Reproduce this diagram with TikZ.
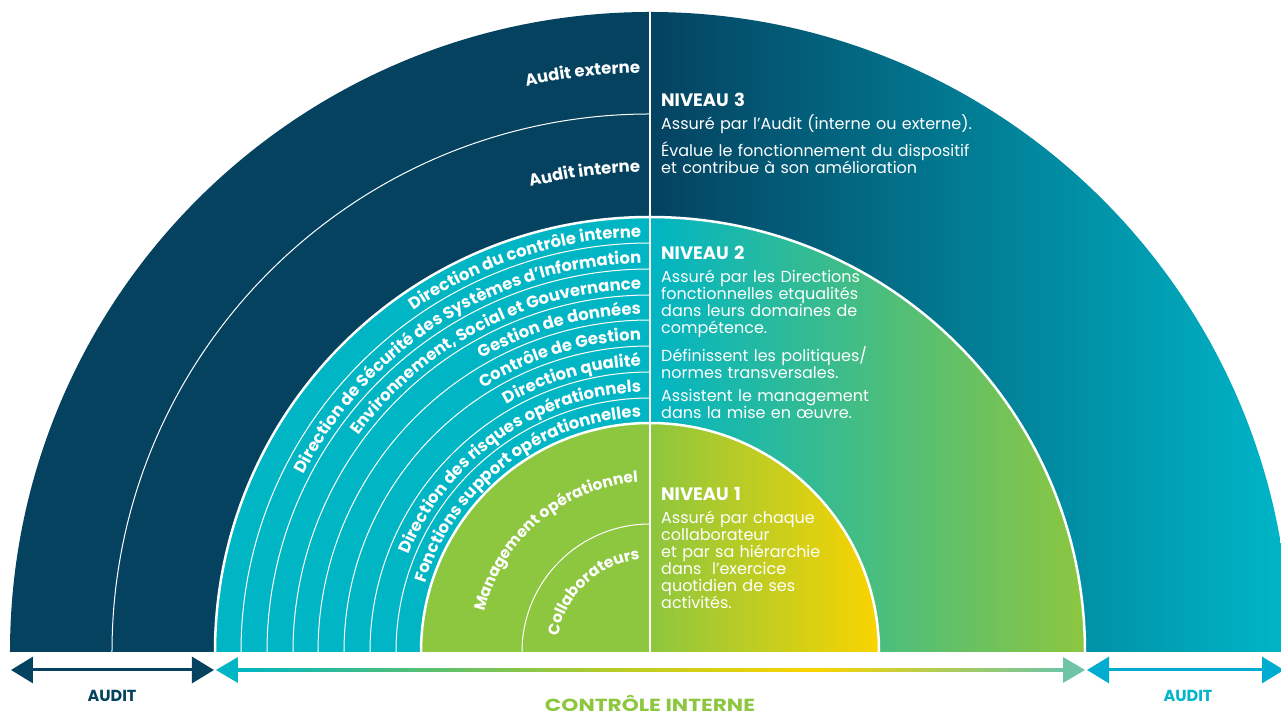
\documentclass[tikz,border=0pt]{standalone}
\usepackage{fontspec}
\setmainfont{Poppins}
\newfontfamily\widefont{Poppins}[FakeStretch=1.24]
\definecolor{auditnavy}{RGB}{4,66,96}
\definecolor{auditteal}{RGB}{0,182,200}
\definecolor{auditblue}{RGB}{0,172,208}
\definecolor{ctrlteal}{RGB}{0,181,196}
\definecolor{opgreen}{RGB}{141,198,63}
\definecolor{opyellow}{RGB}{250,212,0}
\definecolor{mint}{RGB}{110,196,165}
\colorlet{shaftgreen}{ctrlteal!35!opgreen}
\colorlet{shaftlime}{opgreen!60!opyellow}
\colorlet{shaftfade}{opyellow!45!mint}
\usetikzlibrary{arrows.meta, decorations.text}

% gradient of the internal control shaft
\pgfdeclarehorizontalshading{ctrlshaft}{100bp}{color(0bp)=(ctrlteal); color(25bp)=(ctrlteal);
  color(37bp)=(shaftgreen); color(48bp)=(shaftlime); color(60bp)=(opyellow);
  color(68bp)=(shaftfade); color(75bp)=(mint); color(100bp)=(mint)}

\newcommand\ringfont{\bfseries\fontsize{16.5}{16.5}\selectfont}
\newcommand\corefont{\bfseries\fontsize{16.5}{16.5}\selectfont}
\newcommand\innerfont{\bfseries\fontsize{15.5}{15.5}\selectfont}
\newcommand\niveau[1]{{\bfseries\fontsize{18}{17}\selectfont #1}}

\begin{document}
\begin{tikzpicture}[x=1pt, y=1pt,
  thinring/.style={white, line width=1pt},
  thickring/.style={white, line width=2.5pt},
  ringlabel/.style={decorate, decoration={text along path, text color=white,
      text align={align=right, right indent=#1}}},
  ringlabel/.default=9pt,
  infotext/.style={white, anchor=base west, align=left, text width=340pt,
      inner sep=0pt, font=\fontsize{16}{17}\selectfont},
  auditarrow/.style={line width=3pt, >={Triangle[length=22pt, width=26pt]}, <->}]

\useasboundingbox (-650,-59) rectangle (631,652);
\clip (-650,-59) rectangle (631,652);

% --- Left half: flat colours ---
\fill[auditnavy] (0,0) -- (-640,0) arc[start angle=180, end angle=90, radius=640] -- cycle;
\fill[ctrlteal] (0,0) -- (-435,0) arc[start angle=180, end angle=90, radius=435] -- cycle;
\fill[opgreen] (0,0) -- (-229,0) arc[start angle=180, end angle=90, radius=229] -- cycle;

% --- Right half: shaded levels ---
\shade[left color=auditnavy, right color=auditteal]
  (0,435) -- (0,640) arc[start angle=90, end angle=0, radius=640]
  -- (435,0) arc[start angle=0, end angle=90, radius=435] -- cycle;
\shade[left color=ctrlteal, right color=opgreen]
  (0,229) -- (0,435) arc[start angle=90, end angle=0, radius=435]
  -- (229,0) arc[start angle=0, end angle=90, radius=229] -- cycle;
\shade[left color=opgreen, right color=opyellow]
  (0,0) -- (0,229) arc[start angle=90, end angle=0, radius=229] -- cycle;

% --- Ring separators ---
\draw[thinring] (-538,0) arc[start angle=180, end angle=90, radius=538];
\draw[thinring] (-409,0) arc[start angle=180, end angle=90, radius=409];
\draw[thinring] (-383,0) arc[start angle=180, end angle=90, radius=383];
\draw[thinring] (-357,0) arc[start angle=180, end angle=90, radius=357];
\draw[thinring] (-332,0) arc[start angle=180, end angle=90, radius=332];
\draw[thinring] (-306,0) arc[start angle=180, end angle=90, radius=306];
\draw[thinring] (-280,0) arc[start angle=180, end angle=90, radius=280];
\draw[thinring] (-254,0) arc[start angle=180, end angle=90, radius=254];
\draw[thinring] (-128,0) arc[start angle=180, end angle=90, radius=128];
\draw[thickring] (-435,0) arc[start angle=180, end angle=0, radius=435];
\draw[thickring] (-229,0) arc[start angle=180, end angle=0, radius=229];
\draw[thickring] (0,0) -- (0,640);

% --- Level 3 labels ---
\path[ringlabel=10pt, decoration={text={|\corefont|Audit externe}}]
  (-579,0) arc[start angle=180, end angle=90, radius=579];
\path[ringlabel=10pt, decoration={text={|\corefont|Audit interne}}]
  (-480,0) arc[start angle=180, end angle=90, radius=480];

% --- Level 2 labels, one per ring ---
\path[ringlabel, decoration={text={|\ringfont|Direction du contrôle interne}}]
  (-415,0) arc[start angle=180, end angle=90, radius=415];
\path[ringlabel, decoration={text={|\ringfont|Direction de Sécurité des Systèmes d’Information}}]
  (-389,0) arc[start angle=180, end angle=90, radius=389];
\path[ringlabel, decoration={text={|\ringfont|Environnement, Social et Gouvernance}}]
  (-363,0) arc[start angle=180, end angle=90, radius=363];
\path[ringlabel, decoration={text={|\ringfont|Gestion de données}}]
  (-338,0) arc[start angle=180, end angle=90, radius=338];
\path[ringlabel, decoration={text={|\ringfont|Contrôle de Gestion}}]
  (-312,0) arc[start angle=180, end angle=90, radius=312];
\path[ringlabel, decoration={text={|\ringfont|Direction qualité}}]
  (-286,0) arc[start angle=180, end angle=90, radius=286];
\path[ringlabel, decoration={text={|\ringfont|Direction des risques opérationnels}}]
  (-260,0) arc[start angle=180, end angle=90, radius=260];
\path[ringlabel, decoration={text={|\ringfont|Fonctions support opérationnelles}}]
  (-235,0) arc[start angle=180, end angle=90, radius=235];

% --- Level 1 labels ---
\path[ringlabel=12pt, decoration={text={|\innerfont|Management opérationnel}}]
  (-170,0) arc[start angle=180, end angle=90, radius=170];
\path[ringlabel=10pt, decoration={text={|\innerfont|Collaborateurs}}]
  (-93,0) arc[start angle=180, end angle=90, radius=93];

% --- Level descriptions ---
\node[infotext] (niv3) at (11,545) {\niveau{NIVEAU 3}\\[6pt]
  Assuré par l’Audit (interne ou externe).\\[7pt]
  Évalue le fonctionnement du dispositif\\
  et contribue à son amélioration};
\node[infotext] (niv2) at (11,392) {\niveau{NIVEAU 2}\\[6pt]
  Assuré par les Directions\\
  fonctionnelles etqualités\\
  dans leurs domaines de\\
  compétence.\\[7pt]
  Définissent les politiques/\\
  normes transversales.\\[6pt]
  Assistent le management\\
  dans la mise en œuvre.};
\node[infotext] (niv1) at (11,151) {\niveau{NIVEAU 1}\\[6pt]
  Assuré par chaque\\
  collaborateur\\
  et par sa hiérarchie\\
  dans~ l’exercice\\
  quotidien de ses\\
  activités.};

% --- Bottom scale ---
\coordinate (auditLa) at (-639,-18);
\coordinate (auditLb) at (-436,-18);
\coordinate (ctrla) at (-434,-18);
\coordinate (ctrlb) at (435,-18);
\coordinate (auditRa) at (437,-18);
\coordinate (auditRb) at (634,-18);

\draw[auditarrow, auditnavy] (auditLa) -- (auditLb);
\draw[auditarrow, auditblue] (auditRa) -- (auditRb);
\shade[shading=ctrlshaft] ([shift={(22,-1.5)}]ctrla) rectangle ([shift={(-22,1.5)}]ctrlb);
\fill[ctrlteal] (ctrla) -- ++(22,13) -- ++(0,-26) -- cycle;
\fill[mint] (ctrlb) -- ++(-22,13) -- ++(0,-26) -- cycle;

\node[font=\bfseries\fontsize{16}{16}\selectfont, auditnavy] (auditLtxt) at (-538,-44) {AUDIT};
\node[font=\bfseries\fontsize{16}{16}\selectfont, auditteal] (auditRtxt) at (538,-44) {AUDIT};
\node[font=\widefont\bfseries\fontsize{17.5}{17.5}\selectfont, opgreen, inner sep=0pt]
  (ctrltxt) at (0,-51) {CONTRÔLE INTERNE};

\end{tikzpicture}
\end{document}
